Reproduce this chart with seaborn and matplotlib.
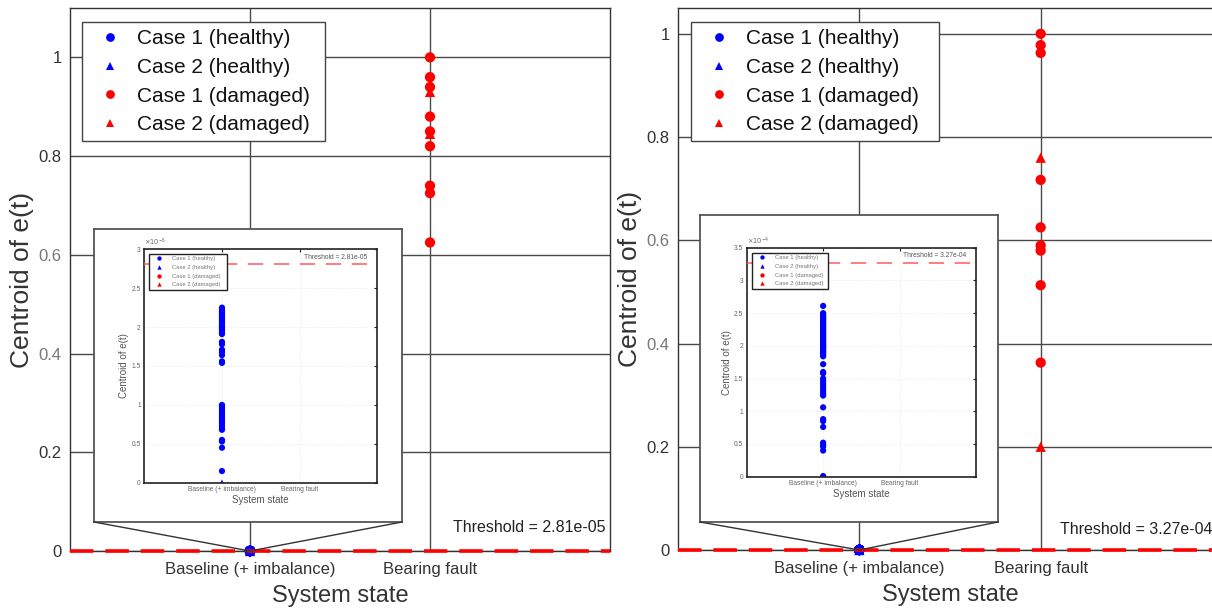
import numpy as np
import pandas as pd
import matplotlib
matplotlib.use("Agg")
import matplotlib.pyplot as plt
from matplotlib.lines import Line2D
import seaborn as sns

# ---------------- data ----------------
categories = ["Baseline (+ imbalance)", "Bearing fault"]
series_labels = ["Case 1 (healthy)", "Case 2 (healthy)", "Case 1 (damaged)", "Case 2 (damaged)"]

# left panel
a_case1_healthy = [2.25e-5, 2.23e-5, 2.21e-5, 2.19e-5, 2.17e-5, 2.15e-5, 2.13e-5, 2.11e-5, 2.09e-5,
                   2.07e-5, 2.05e-5, 2.03e-5, 2.01e-5, 1.99e-5, 1.97e-5, 1.95e-5, 1.93e-5, 1.91e-5,
                   1.81e-5, 1.78e-5, 1.71e-5, 1.68e-5, 1.64e-5, 1.56e-5, 1.54e-5,
                   1.00e-5, 0.98e-5, 0.96e-5, 0.93e-5, 0.90e-5, 0.87e-5, 0.85e-5, 0.82e-5, 0.79e-5,
                   0.76e-5, 0.73e-5, 0.70e-5, 0.68e-5, 0.55e-5, 0.53e-5, 0.45e-5, 0.15e-5]
a_case2_healthy = [0.0]
a_case1_damaged = [1.0, 0.96, 0.94, 0.88, 0.85, 0.82, 0.74, 0.725, 0.625]
a_case2_damaged = [0.93, 0.845]
a_threshold = 2.81e-5
a_threshold_label = "Threshold = 2.81e-05"

# right panel
b_case1_healthy = [2.61e-4, 2.50e-4, 2.48e-4, 2.46e-4, 2.44e-4, 2.42e-4, 2.40e-4, 2.38e-4, 2.36e-4,
                   2.34e-4, 2.32e-4, 2.30e-4, 2.28e-4, 2.26e-4, 2.24e-4, 2.22e-4, 2.20e-4, 2.18e-4,
                   2.16e-4, 2.14e-4, 2.12e-4, 2.10e-4, 2.08e-4, 2.06e-4, 2.04e-4, 2.02e-4, 2.00e-4,
                   1.98e-4, 1.96e-4, 1.94e-4, 1.92e-4, 1.90e-4, 1.88e-4, 1.86e-4, 1.84e-4, 1.72e-4,
                   1.60e-4, 1.58e-4, 1.50e-4, 1.46e-4, 1.42e-4, 1.38e-4, 1.34e-4, 1.30e-4, 1.27e-4,
                   1.24e-4, 1.06e-4, 0.88e-4, 0.85e-4, 0.76e-4, 0.52e-4, 0.49e-4, 0.46e-4, 0.40e-4,
                   0.01e-4]
b_case2_healthy = [0.0]
b_case1_damaged = [1.0, 0.978, 0.963, 0.717, 0.625, 0.59, 0.58, 0.513, 0.363]
b_case2_damaged = [0.76, 0.20]
b_threshold = 3.27e-4
b_threshold_label = "Threshold = 3.27e-04"

main_yticks = [0, 0.2, 0.4, 0.6, 0.8, 1.0]
main_yticklabels = ["0", "0.2", "0.4", "0.6", "0.8", "1"]
a_inner_yticks = [0, 0.5e-5, 1.0e-5, 1.5e-5, 2.0e-5, 2.5e-5, 3.0e-5]
a_inner_yticklabels = ["0", "0.5", "1", "1.5", "2", "2.5", "3"]
a_inner_exponent = r"$\times10^{-5}$"
b_inner_yticks = [0, 0.5e-4, 1.0e-4, 1.5e-4, 2.0e-4, 2.5e-4, 3.0e-4, 3.5e-4]
b_inner_yticklabels = ["0", "0.5", "1", "1.5", "2", "2.5", "3", "3.5"]
b_inner_exponent = r"$\times10^{-4}$"

# ---------------- style ----------------
sns.set_theme(style="white")
plt.rcParams["font.family"] = ["Liberation Sans", "DejaVu Sans"]

palette = {series_labels[0]: "#0000ff", series_labels[1]: "#0000ff",
           series_labels[2]: "#ff0000", series_labels[3]: "#ff0000"}
markers = {series_labels[0]: "o", series_labels[1]: "^",
           series_labels[2]: "o", series_labels[3]: "^"}


def make_df(c1h, c2h, c1d, c2d):
    rows = []
    for vals, lab, cat in [(c1h, series_labels[0], 0), (c2h, series_labels[1], 0),
                           (c1d, series_labels[2], 1), (c2d, series_labels[3], 1)]:
        for v in vals:
            rows.append({"state": cat, "value": v, "series": lab})
    return pd.DataFrame(rows)


fig = plt.figure(figsize=(12.12, 6.08), dpi=100)
fig.patch.set_facecolor("white")

W, H = 1212.0, 608.0


def fig_rect(x0, y0, x1, y1):
    return [x0 / W, 1 - y1 / H, (x1 - x0) / W, (y1 - y0) / H]


def rebuild_legend(ax, **kw):
    leg = ax.get_legend()
    handles = leg.legend_handles
    labels = [t.get_text() for t in leg.get_texts()]
    pairs = [(h, l) for h, l in zip(handles, labels) if l in series_labels]
    leg.remove()
    return ax.legend([p[0] for p in pairs], [p[1] for p in pairs], **kw)


def draw_panel(main_rect, box_rect, inner_rect, ylim_top, df, threshold, thr_label,
               inner_yticks, inner_yticklabels, inner_exp, leg_anchor, thr_pos, inner_leg_anchor,
               inner_thr_pos):
    ax = fig.add_axes(fig_rect(*main_rect))
    ax.set_facecolor("white")
    ax.set_axisbelow(True)
    ax.grid(True, color="#4a4a4a", lw=1.0)
    sns.scatterplot(data=df, x="state", y="value", hue="series", style="series",
                    palette=palette, markers=markers, s=55, linewidth=0, ax=ax,
                    clip_on=False, zorder=2, legend=True)
    ax.axhline(threshold, color="#ff0000", lw=2.6, ls=(0, (6.5, 3.3)), zorder=3, clip_on=False)
    ax.set_xlim(-1, 2)
    ax.set_ylim(0, ylim_top)
    ax.set_xticks([0, 1], categories)
    ax.set_yticks(main_yticks, main_yticklabels)
    ax.tick_params(axis="both", length=0, labelsize=12, colors="#333333")
    ax.tick_params(axis="x", pad=8)
    ax.tick_params(axis="y", pad=6)
    for lab in ax.get_yticklabels():
        if lab.get_text() in ("0.4", "0.6"):
            lab.set_color("#777777")
    ax.set_xlabel("System state", fontsize=17, color="#333333", labelpad=6)
    ax.set_ylabel("Centroid of e(t)", fontsize=19, color="#333333", labelpad=3)
    for sp in ax.spines.values():
        sp.set_color("#333333")
        sp.set_linewidth(1.0)
    ax.text(thr_pos[0], thr_pos[1], thr_label, transform=ax.transAxes, ha="right", va="center",
            fontsize=11.5, color="#222222")
    rebuild_legend(ax, loc="upper left", bbox_to_anchor=leg_anchor, mode="expand",
                   borderaxespad=0, fontsize=15, frameon=True, fancybox=False,
                   edgecolor="#444444", framealpha=1, labelspacing=0.46, handletextpad=0.3,
                   markerscale=0.85, borderpad=0.35)
    ax.get_legend().get_frame().set_linewidth(1.0)
    for t in ax.get_legend().get_texts():
        t.set_color("#111111")

    # inset "figure" box
    box = fig.add_axes(fig_rect(*box_rect))
    box.set_facecolor("white")
    box.set_xticks([])
    box.set_yticks([])
    for sp in box.spines.values():
        sp.set_color("#555555")
        sp.set_linewidth(1.3)

    # inner axes
    ai = fig.add_axes(fig_rect(*inner_rect))
    ai.set_facecolor("white")
    ai.set_axisbelow(True)
    ai.grid(True, color="#e2e2e2", lw=0.5, ls=":")
    sns.scatterplot(data=df, x="state", y="value", hue="series", style="series",
                    palette=palette, markers=markers, s=20, linewidth=0, ax=ai,
                    zorder=2, legend=True)
    ai.axhline(threshold, color="#ff5a5a", lw=1.1, ls=(0, (10, 7)), zorder=3)
    ai.set_xlim(-1, 2)
    ai.set_ylim(inner_yticks[0], inner_yticks[-1])
    ai.set_xticks([0, 1], categories)
    ai.set_yticks(inner_yticks, inner_yticklabels)
    ai.tick_params(axis="both", direction="in", top=True, right=True, length=2.5, width=0.8,
                   labelsize=4.8, colors="#222222", labelcolor="#666666", pad=2.5)
    ai.set_xlabel("System state", fontsize=7, color="#555555", labelpad=1)
    ai.set_ylabel("Centroid of e(t)", fontsize=7, color="#555555", labelpad=1.5)
    for sp in ai.spines.values():
        sp.set_color("#222222")
        sp.set_linewidth(1.2)
    ai.text(0.0, 1.004, inner_exp, transform=ai.transAxes, ha="left", va="bottom",
            fontsize=4.8, color="#666666")
    ai.text(inner_thr_pos[0], inner_thr_pos[1], thr_label, transform=ai.transAxes,
            ha="right", va="center", fontsize=4.8, color="#555555")
    rebuild_legend(ai, loc="upper left", bbox_to_anchor=inner_leg_anchor, mode="expand",
                   borderaxespad=0, fontsize=4.2, frameon=True, fancybox=False,
                   edgecolor="#222222", framealpha=1, labelspacing=0.62, handletextpad=1.0,
                   handlelength=2.6, markerscale=0.7, borderpad=0.4)
    ai.get_legend().get_frame().set_linewidth(1.0)
    for t in ai.get_legend().get_texts():
        t.set_color("#777777")

    # zoom connector lines from box bottom corners to the baseline point
    fig_inv = fig.transFigure.inverted()
    apex = fig_inv.transform(ax.transData.transform((0, 0)))
    for corner in [(0, 0), (1, 0)]:
        c = fig_inv.transform(box.transAxes.transform(corner))
        fig.add_artist(Line2D([c[0], apex[0]], [c[1], apex[1]], transform=fig.transFigure,
                              color="#333333", lw=1.0, zorder=5))
    return ax


df_a = make_df(a_case1_healthy, a_case2_healthy, a_case1_damaged, a_case2_damaged)
df_b = make_df(b_case1_healthy, b_case2_healthy, b_case1_damaged, b_case2_damaged)

draw_panel((70, 8, 610, 551), (94, 229, 402, 522), (144.3, 249.3, 377.3, 482.7), 1.1,
           df_a, a_threshold, a_threshold_label, a_inner_yticks, a_inner_yticklabels,
           a_inner_exponent, (0.022, 0.0, 0.45, 0.974), (0.991, 0.044),
           (0.02, 0.0, 0.335, 0.98), (0.956, 0.963))

draw_panel((678, 8, 1222, 550), (700, 215, 998, 522), (746.7, 247.7, 976, 476.7), 1.05,
           df_b, b_threshold, b_threshold_label, b_inner_yticks, b_inner_yticklabels,
           b_inner_exponent, (0.024, 0.0, 0.456, 0.974), (0.982, 0.037),
           (0.023, 0.0, 0.33, 0.977), (0.956, 0.964))

fig.savefig("out.png", dpi=100, facecolor="white")
